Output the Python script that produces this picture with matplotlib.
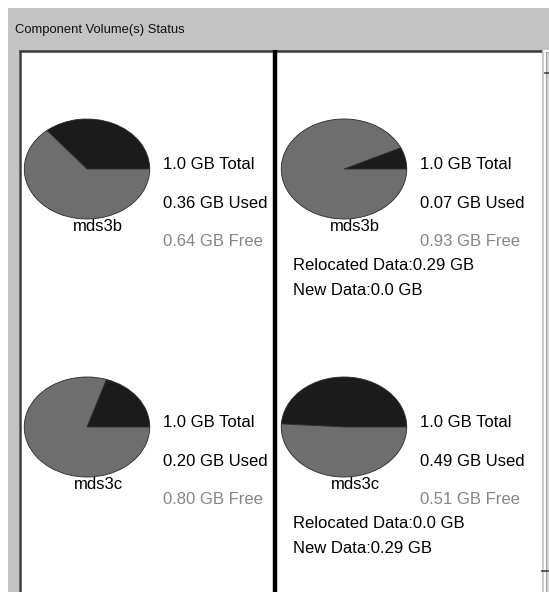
import matplotlib.pyplot as plt
from matplotlib.patches import Rectangle

plt.rcParams['font.family'] = ['Liberation Sans', 'DejaVu Sans']

# Volume status values (GB)
volumes = ['mds3b', 'mds3c']
total_gb = [1.0, 1.0]
used_before = [0.36, 0.20]
free_before = [0.64, 0.80]
used_after = [0.07, 0.49]
free_after = [0.93, 0.51]
relocated_gb = [0.29, 0.0]
new_gb = [0.0, 0.29]

W, H = 549, 592
USED_C = '#1b1b1b'
FREE_C = '#6e6e6e'
BG = '#c3c3c3'

fig = plt.figure(figsize=(W / 100, H / 100), dpi=100)
fig.patch.set_facecolor('white')
ax = fig.add_axes([0, 0, 1, 1])
ax.set_xlim(0, W)
ax.set_ylim(H, 0)
ax.axis('off')

# window frame
ax.add_patch(Rectangle((8, 8), W - 8, H - 8, color=BG, lw=0))
ax.add_patch(Rectangle((19, 50.5), 523, H, facecolor='white', edgecolor='none'))
ax.plot([19, 542], [50.8, 50.8], color='#3a3a3a', lw=1.8, solid_capstyle='butt')
ax.plot([19.5, 19.5], [50, H], color='#3a3a3a', lw=1.8, solid_capstyle='butt')
ax.plot([274.5, 274.5], [50, H], color='black', lw=3.2, solid_capstyle='butt')
ax.text(15, 30, 'Component Volume(s) Status', fontsize=9.4, va='center', color='#111111')

# scrollbar strip on the right
ax.add_patch(Rectangle((543, 50), 6, H, facecolor='white', edgecolor='none'))
ax.plot([542.5, 542.5], [52, H], color='#c8c8c8', lw=1.2)
ax.add_patch(Rectangle((545.5, 52), 4, H, facecolor='#d4d4d4', edgecolor='#a0a0a0', lw=0.8))
ax.plot([545, 549], [72.5, 72.5], color='#404040', lw=1.2)
ax.plot([542, 549], [570.5, 570.5], color='#404040', lw=1.2)

col_pie_x = [23, 280]
col_text_x = [163, 420]
row_y = [163, 421]


def draw_pie(x0, yc, used, free):
    pax = fig.add_axes([x0 / W, 1 - (yc + 54) / H, 128 / W, 102 / H])
    pax.pie([used, free], colors=[USED_C, FREE_C], startangle=0,
            counterclock=True, radius=1,
            wedgeprops=dict(linewidth=0.6, edgecolor='#2a2a2a'))
    pax.set_aspect('auto')
    pax.set_xlim(-1.02, 1.02)
    pax.set_ylim(-1.02, 1.02)
    pax.axis('off')


for i, name in enumerate(volumes):
    y = row_y[i]
    for c, (used, free) in enumerate([(used_before[i], free_before[i]),
                                      (used_after[i], free_after[i])]):
        draw_pie(col_pie_x[c], y + 3, used, free)
        tx = col_text_x[c]
        ax.text(tx, y + 6, f'{total_gb[i]} GB Total', fontsize=12, va='baseline')
        ax.text(tx, y + 45, f'{used:.2f} GB Used', fontsize=12, va='baseline')
        ax.text(tx, y + 83, f'{free:.2f} GB Free', fontsize=12, va='baseline',
                color='#858585')
        ax.text(col_pie_x[c] + 75, y + 68, name, fontsize=12, va='baseline',
                ha='center')
    ax.text(293, y + 107, f'Relocated Data:{relocated_gb[i]} GB', fontsize=12,
            va='baseline')
    ax.text(293, y + 132, f'New Data:{new_gb[i]} GB', fontsize=12, va='baseline')

fig.savefig('out.png', dpi=100)
